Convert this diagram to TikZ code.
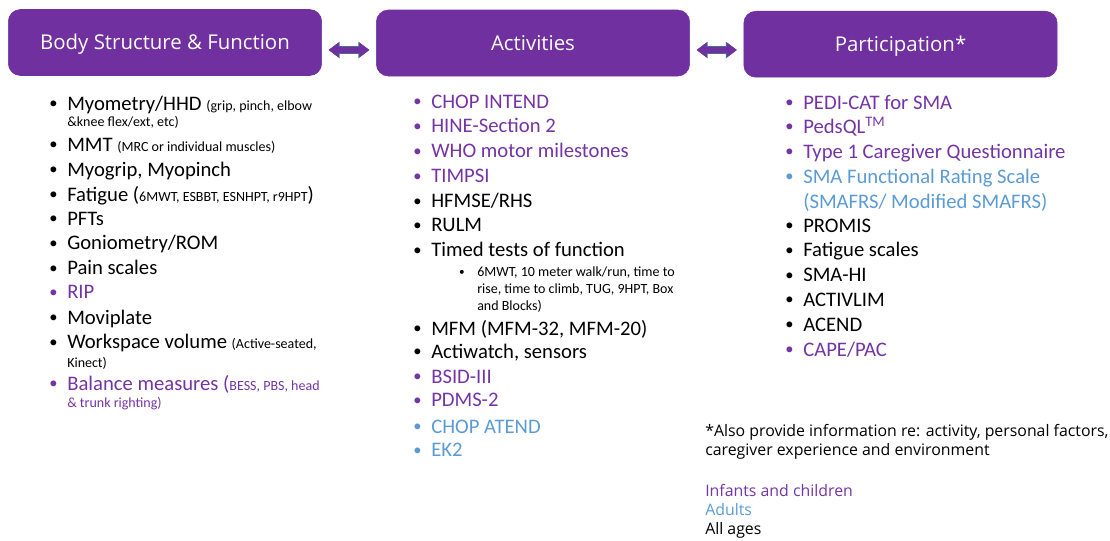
\documentclass[tikz,border=0pt]{standalone}
\usepackage{fontspec}
\setmainfont{Carlito}
\newfontfamily\headfont{Open Sans}
\usetikzlibrary{arrows.meta,calc}

\definecolor{boxpurple}{HTML}{7030A0}
\definecolor{kidpurple}{HTML}{7434A6}
\definecolor{adultblue}{HTML}{5B9BD5}
\definecolor{arrowrim}{HTML}{41719C}

\newcommand{\bul}{\llap{\raisebox{1pt}{\scalebox{0.8}{\textbullet}}\hspace{7.2pt}}}
\newcommand{\subbul}{\llap{\raisebox{0.7pt}{\scalebox{0.8}{\textbullet}}\hspace{9.5pt}}}
\newcommand{\sm}{\fontsize{10.5pt}{12pt}\selectfont}

\begin{document}
\begin{tikzpicture}[x=0.75pt, y=-0.75pt,
  head/.style = {rectangle, rounded corners=9pt, fill=boxpurple, draw=boxpurple, text=white, inner sep=0pt,
                 minimum width=235pt, minimum height=49.5pt, text height=10.5pt, text depth=0pt,
                 font=\headfont\fontsize{15.3pt}{17pt}\selectfont},
  link/.style = {draw=boxpurple, line width=4.5pt, {Triangle[length=7.5pt,width=10.5pt]}-{Triangle[length=7.5pt,width=10.5pt]},
                 preaction={draw=arrowrim, line width=5.6pt, {Triangle[length=8.3pt,width=12pt]}-{Triangle[length=8.3pt,width=12pt]}},
                 shorten <=5pt, shorten >=5pt},
  item/.style = {anchor=base west, inner sep=0pt, font=\fontsize{15.5pt}{18pt}\selectfont},
  small/.style = {item, font=\sm},
  note/.style = {anchor=base west, inner sep=0pt, font=\headfont\fontsize{11.9pt}{14pt}\selectfont},
  kid/.style = {text=kidpurple},
  adult/.style = {text=adultblue}]

\useasboundingbox (0,0) rectangle (1110,540);

\node[head] (bsf) at (165,42.5) {Body Structure \& Function};
\node[head] (act) at (533,43) {Activities};
\node[head] (par) at (900.5,44.2) {Participation*};

\coordinate (l1) at ($(bsf.east)+(0,7.5)$);
\coordinate (r1) at (l1 -| act.west);
\coordinate (l2) at ($(act.east)+(0,7)$);
\coordinate (r2) at (l2 -| par.west);
\draw[link] (l1) -- (r1);
\draw[link] (l2) -- (r2);

\node[item] (b1) at (67,110) {\bul Myometry/HHD {\sm(grip, pinch, elbow}};
\node[small] (b1x) at (67,126.5) {\&knee flex/ext, etc)};
\node[item] (b2) at (67,151) {\bul MMT {\sm(MRC or individual muscles)}};
\node[item] (b3) at (67,176) {\bul Myogrip, Myopinch};
\node[item] (b4) at (67,201) {\bul Fatigue ({\sm 6MWT, ESBBT, ESNHPT, r9HPT})};
\node[item] (b5) at (67,225) {\bul PFTs};
\node[item] (b6) at (67,249.5) {\bul Goniometry/ROM};
\node[item] (b7) at (67,274.5) {\bul Pain scales};
\node[item, kid] (b8) at (67,298.5) {\bul RIP};
\node[item] (b9) at (67,324) {\bul Moviplate};
\node[item] (b10) at (67,348.5) {\bul Workspace volume {\sm(Active-seated,}};
\node[small] (b10x) at (67,367) {Kinect)};
\node[item, kid] (b11) at (67,390) {\bul Balance measures ({\sm BESS, PBS, head}};
\node[small, kid] (b11x) at (67,407) {\& trunk righting)};

\node[item, kid] (a1) at (431,108.3) {\bul CHOP INTEND};
\node[item, kid] (a2) at (431,132.7) {\bul HINE-Section 2};
\node[item, kid] (a3) at (431,157.7) {\bul WHO motor milestones};
\node[item, kid] (a4) at (431,182.7) {\bul TIMPSI};
\node[item] (a5) at (431,207.7) {\bul HFMSE/RHS};
\node[item] (a6) at (431,231.7) {\bul RULM};
\node[item] (a7) at (431,256.7) {\bul Timed tests of function};
\node[small] (a7a) at (477,276.7) {\subbul 6MWT, 10 meter walk/run, time to};
\node[small] (a7b) at (477,293.3) {rise, time to climb, TUG, 9HPT, Box};
\node[small] (a7c) at (477,310) {and Blocks)};
\node[item] (a8) at (431,335) {\bul MFM (MFM-32, MFM-20)};
\node[item] (a9) at (431,358.3) {\bul Actiwatch, sensors};
\node[item, kid] (a10) at (431,383.3) {\bul BSID-III};
\node[item, kid] (a11) at (431,406.7) {\bul PDMS-2};
\node[item, adult] (a12) at (431,433.3) {\bul CHOP ATEND};
\node[item, adult] (a13) at (431,456.7) {\bul EK2};

\node[item, kid] (p1) at (803,109.3) {\bul PEDI-CAT for SMA};
\node[item, kid] (p2) at (803,133.3) {\bul PedsQL\textsuperscript{TM}};
\node[item, kid] (p3) at (803,158.3) {\bul Type 1 Caregiver Questionnaire};
\node[item, adult] (p4) at (803,183.3) {\bul SMA Functional Rating Scale};
\node[item, adult] (p4x) at (803,208.3) {(SMAFRS/ Modified SMAFRS)};
\node[item] (p5) at (803,232.3) {\bul PROMIS};
\node[item] (p6) at (803,256.7) {\bul Fatigue scales};
\node[item] (p7) at (803,281.7) {\bul SMA-HI};
\node[item] (p8) at (803,306) {\bul ACTIVLIM};
\node[item] (p9) at (803,331) {\bul ACEND};
\node[item, kid] (p10) at (803,356) {\bul CAPE/PAC};

\node[note] (n1) at (705,436) {*Also provide information re: activity, personal factors,};
\node[note] (n2) at (705,455) {caregiver experience and environment};
\node[note, kid] (k1) at (705,496.7) {Infants and children};
\node[note, adult] (k2) at (705,515.7) {Adults};
\node[note] (k3) at (705,534.3) {All ages};

\end{tikzpicture}
\end{document}
